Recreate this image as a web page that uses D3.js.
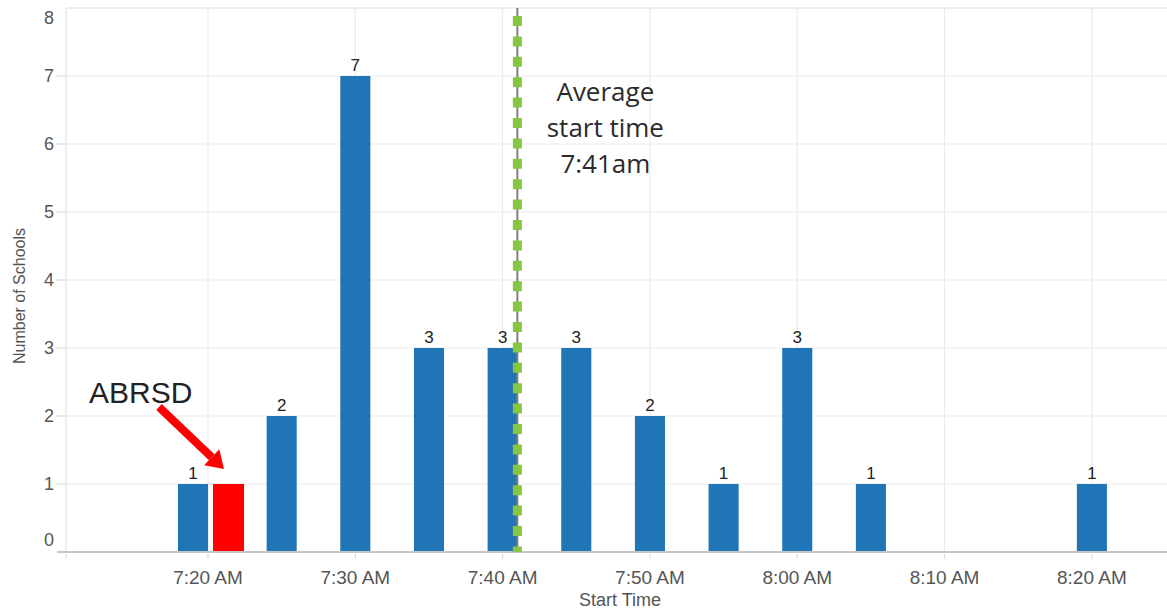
<!DOCTYPE html>
<html>
<head>
<meta charset="utf-8">
<script src="https://cdn.jsdelivr.net/npm/d3@7"></script>
<style>
  html, body { margin: 0; padding: 0; background: #fff; }
  svg { display: block; }
</style>
</head>
<body>
<svg id="chart" width="1167" height="609"></svg>
<script>
// Start times (minutes after midnight) and how many schools begin at each
const startMinutes = [440, 445, 450, 455, 460, 465, 470, 475, 480, 485, 500];
const schoolCounts = [1, 2, 7, 3, 3, 3, 2, 1, 3, 1, 1];
// The highlighted district, drawn beside the 7:20 bar
const districtName = "ABRSD";
const districtMinute = 440;
const districtCount = 1;
// Average start time across all schools
const averageMinute = 461;
const averageLines = ["Average", "start time", "7:41am"];
// Axis ticks
const xTickMinutes = [440, 450, 460, 470, 480, 490, 500];
const xTickLabels = ["7:20 AM", "7:30 AM", "7:40 AM", "7:50 AM", "8:00 AM", "8:10 AM", "8:20 AM"];
const yTicks = [0, 1, 2, 3, 4, 5, 6, 7, 8];

const svg = d3.select("#chart");
const plot = { left: 66, right: 1167, top: 8, bottom: 552 };

const x = d3.scaleLinear().domain([430.36, 505.1]).range([plot.left, plot.right]);
const y = d3.scaleLinear().domain([0, 8]).range([plot.bottom, plot.top]);

const barMinutes = 2.04;
const barW = x(barMinutes) - x(0);
const pairGap = 5;

const blue = "#1f75b6";
const red = "#ff0000";
const gridColor = "#ebebeb";
const tickText = "#555";
const sans = "Liberation Sans, Arial, sans-serif";

// Horizontal gridlines
svg.append("g").selectAll("line").data(yTicks.filter(d => d > 0)).join("line")
  .attr("x1", plot.left).attr("x2", plot.right)
  .attr("y1", d => y(d)).attr("y2", d => y(d))
  .attr("stroke", d => d === 8 ? "#dcdcdc" : gridColor).attr("stroke-width", 1.2);

// Vertical gridlines at each x tick, plus the left frame edge
svg.append("g").selectAll("line").data(xTickMinutes).join("line")
  .attr("x1", d => x(d)).attr("x2", d => x(d))
  .attr("y1", plot.top).attr("y2", plot.bottom)
  .attr("stroke", gridColor).attr("stroke-width", 1.2);
svg.append("line")
  .attr("x1", plot.left).attr("x2", plot.left)
  .attr("y1", plot.top).attr("y2", plot.bottom)
  .attr("stroke", "#e2e2e2").attr("stroke-width", 1.2);

// Y axis tick marks and labels
const yAxis = svg.append("g");
yAxis.selectAll("line").data(yTicks.filter(d => d > 0 && d < 8)).join("line")
  .attr("x1", plot.left - 10).attr("x2", plot.left)
  .attr("y1", d => y(d)).attr("y2", d => y(d))
  .attr("stroke", "#dcdcdc").attr("stroke-width", 1.2);
yAxis.selectAll("text").data(yTicks).join("text")
  .attr("x", 54)
  .attr("y", d => d === 0 ? y(d) - 12 : d === 8 ? y(d) + 10 : y(d))
  .attr("dy", "0.36em")
  .attr("text-anchor", "end")
  .attr("font-family", sans)
  .attr("font-size", 18)
  .attr("fill", tickText)
  .text(d => d);

// Bars for the other schools; the 7:20 bar steps left to make room for the district
const bars = startMinutes.map((m, i) => ({ minute: m, count: schoolCounts[i] }));
const barLeft = d => d.minute === districtMinute ? x(d.minute) - barW : x(d.minute) - barW / 2;

svg.append("g").selectAll("rect").data(bars).join("rect")
  .attr("x", barLeft)
  .attr("y", d => y(d.count))
  .attr("width", barW)
  .attr("height", d => y(0) - y(d.count))
  .attr("fill", blue);

// District bar
const districtX = x(districtMinute) + pairGap;
svg.append("rect")
  .attr("x", districtX)
  .attr("y", y(districtCount))
  .attr("width", barW + 1)
  .attr("height", y(0) - y(districtCount))
  .attr("fill", red);

// Value labels
svg.append("g").selectAll("text").data(bars).join("text")
  .attr("x", d => barLeft(d) + barW / 2)
  .attr("y", d => y(d.count) - 5)
  .attr("text-anchor", "middle")
  .attr("font-family", sans)
  .attr("font-size", 17)
  .attr("fill", "#222")
  .text(d => d.count);

// X axis baseline, ticks and labels
svg.append("line")
  .attr("x1", plot.left - 9).attr("x2", plot.right)
  .attr("y1", plot.bottom).attr("y2", plot.bottom)
  .attr("stroke", "#c6c6c6").attr("stroke-width", 2);
const xAxis = svg.append("g");
xAxis.selectAll("line").data([430.36].concat(xTickMinutes)).join("line")
  .attr("x1", d => x(d)).attr("x2", d => x(d))
  .attr("y1", plot.bottom + 2).attr("y2", plot.bottom + 7)
  .attr("stroke", "#dcdcdc").attr("stroke-width", 1.2);
xAxis.selectAll("text").data(xTickMinutes).join("text")
  .attr("x", d => x(d))
  .attr("y", 577)
  .attr("dy", "0.36em")
  .attr("text-anchor", "middle")
  .attr("font-family", sans)
  .attr("font-size", 19)
  .attr("fill", tickText)
  .text((d, i) => xTickLabels[i]);

// Axis titles
svg.append("text")
  .attr("x", 620).attr("y", 600).attr("dy", "0.36em")
  .attr("text-anchor", "middle")
  .attr("font-family", sans)
  .attr("font-size", 18)
  .attr("fill", tickText)
  .text("Start Time");
svg.append("text")
  .attr("transform", "translate(19,296) rotate(-90)")
  .attr("dy", "0.36em")
  .attr("text-anchor", "middle")
  .attr("font-family", sans)
  .attr("font-size", 16)
  .attr("fill", tickText)
  .text("Number of Schools");

// Average start time marker: grey rule with green square dashes
const ax = x(averageMinute);
svg.append("line")
  .attr("x1", ax).attr("x2", ax)
  .attr("y1", plot.top).attr("y2", plot.bottom)
  .attr("stroke", "#7f7f7f").attr("stroke-width", 2);
svg.append("line")
  .attr("x1", ax).attr("x2", ax)
  .attr("y1", plot.top + 8).attr("y2", plot.bottom)
  .attr("stroke", "#86c640").attr("stroke-width", 9)
  .attr("stroke-dasharray", "10,10.4");

svg.append("text")
  .attr("font-family", "Open Sans, Noto Sans, sans-serif")
  .attr("font-size", 26)
  .attr("fill", "#2b2b2b")
  .attr("text-anchor", "middle")
  .selectAll("tspan").data(averageLines).join("tspan")
  .attr("x", ax + 88)
  .attr("y", (d, i) => 101 + i * 36)
  .text(d => d);

// District annotation with arrow pointing at its bar
svg.append("text")
  .attr("x", 89).attr("y", 403)
  .attr("font-family", sans)
  .attr("font-size", 30)
  .attr("fill", "#222")
  .text(districtName);

const tip = [districtX + 11, y(districtCount) - 15];
const tail = [159, 407];
const ang = Math.atan2(tip[1] - tail[1], tip[0] - tail[0]);
const headLen = 17, headHalf = 11;
const base = [tip[0] - headLen * Math.cos(ang), tip[1] - headLen * Math.sin(ang)];
svg.append("line")
  .attr("x1", tail[0]).attr("y1", tail[1])
  .attr("x2", base[0]).attr("y2", base[1])
  .attr("stroke", red).attr("stroke-width", 8);
const perp = ang + Math.PI / 2;
svg.append("path")
  .attr("d", d3.line()([
    tip,
    [base[0] + headHalf * Math.cos(perp), base[1] + headHalf * Math.sin(perp)],
    [base[0] - headHalf * Math.cos(perp), base[1] - headHalf * Math.sin(perp)]
  ]) + "Z")
  .attr("fill", red);
</script>
</body>
</html>
